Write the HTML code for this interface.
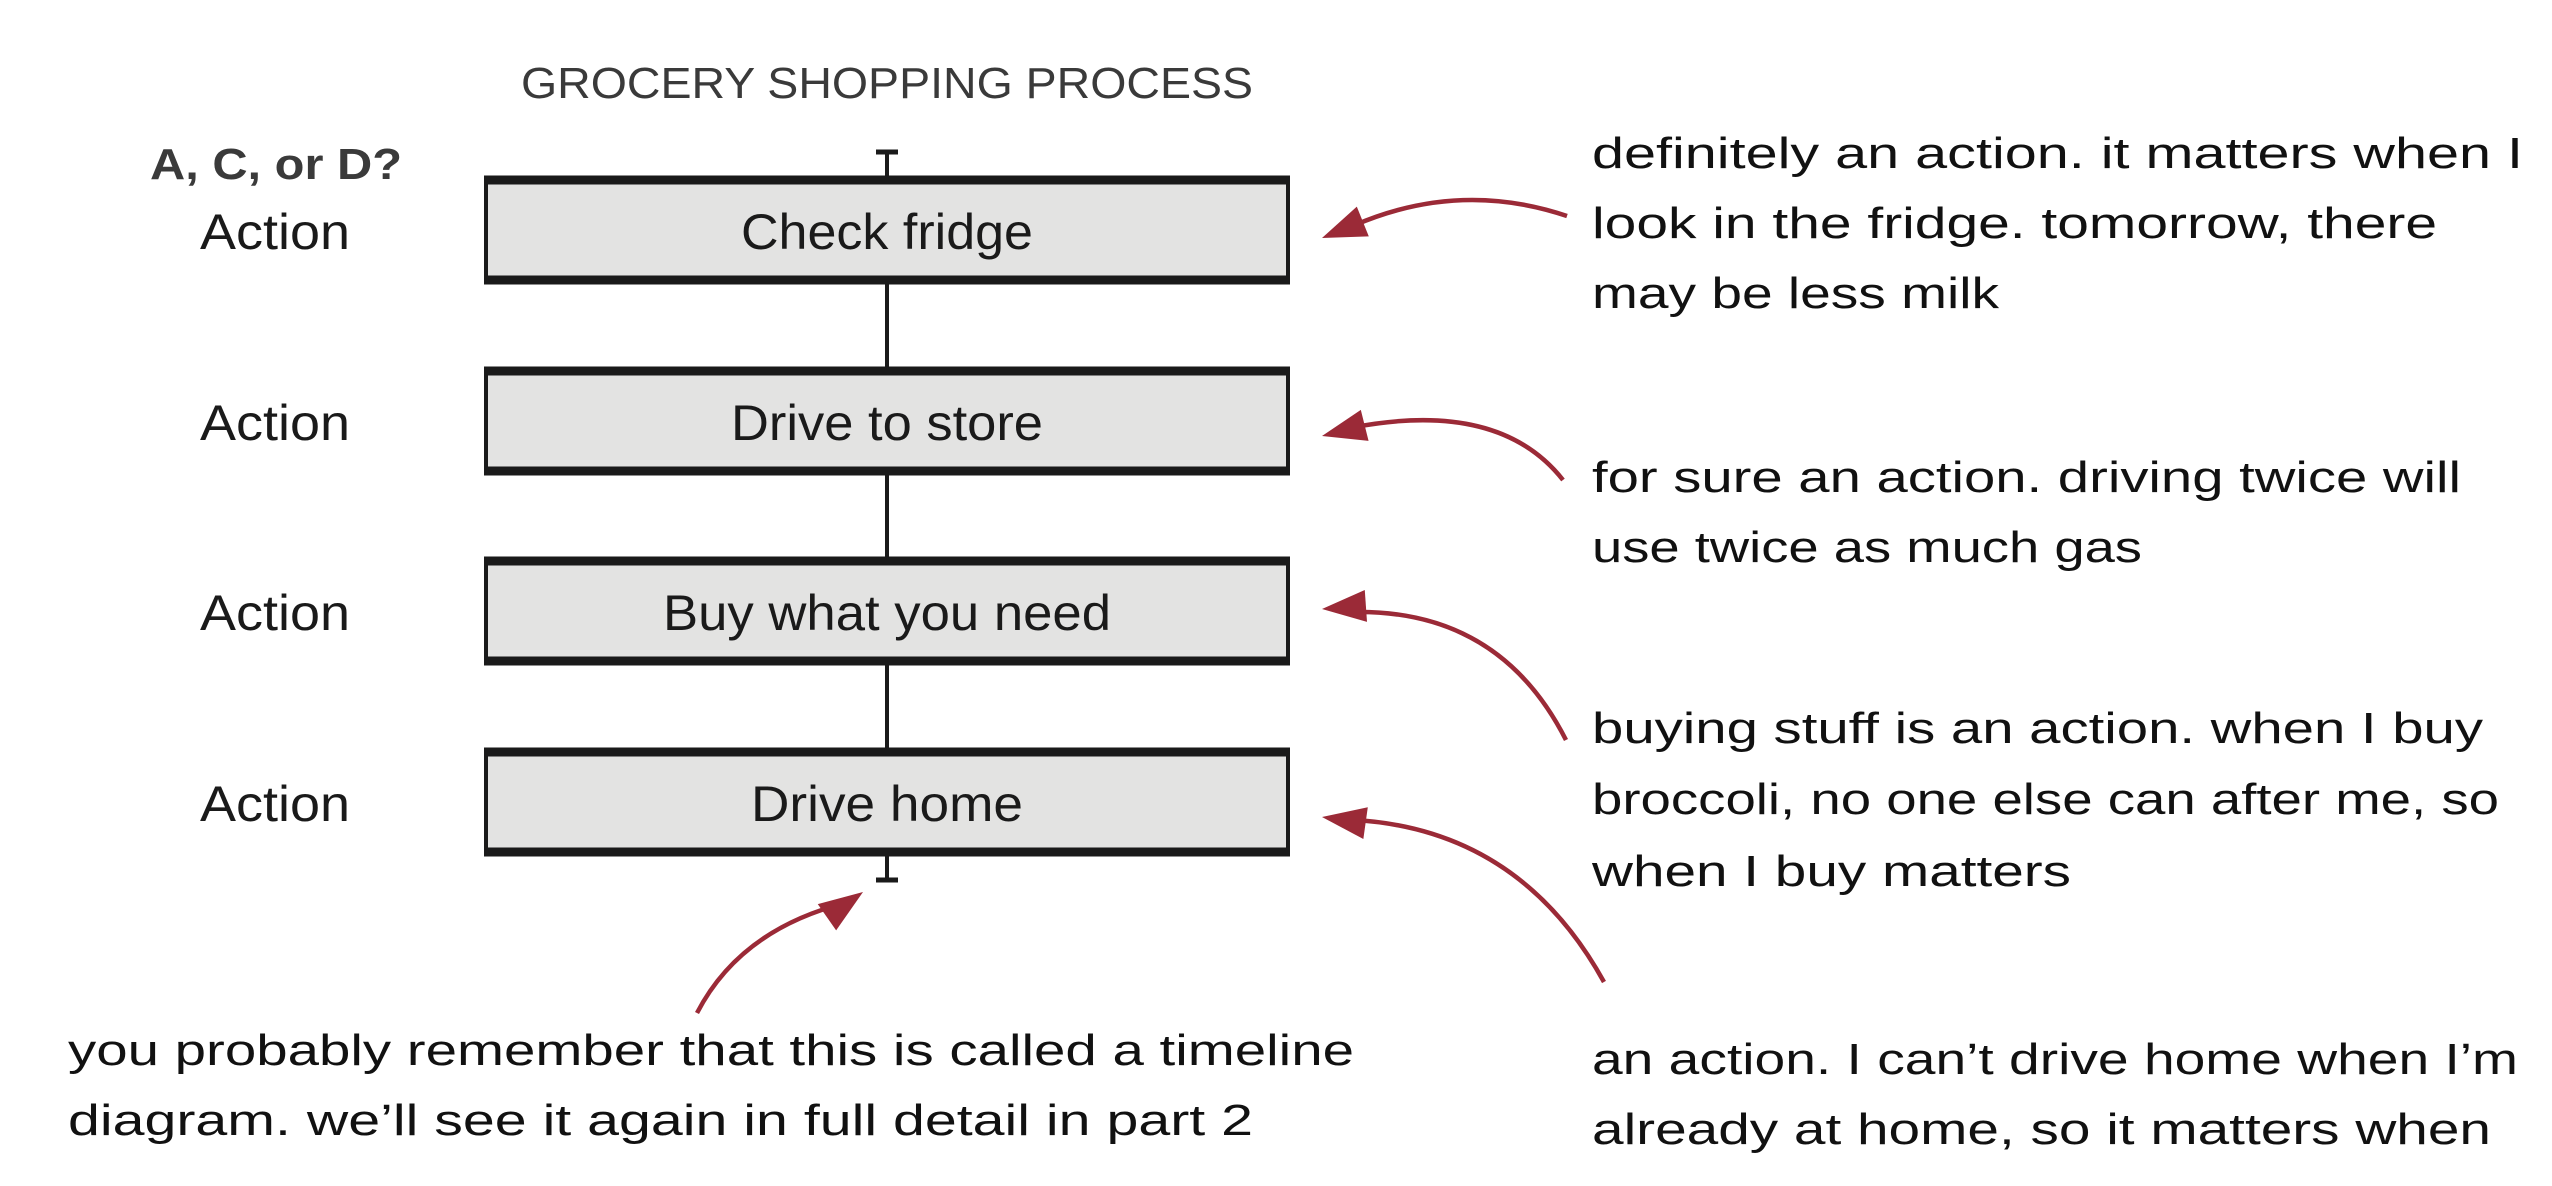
<!DOCTYPE html>
<html><head><meta charset="utf-8"><style>
html,body{margin:0;padding:0;background:#fff;}
svg{display:block;}
.t{font-family:"Liberation Sans",sans-serif;}
.h{font-family:"Liberation Sans",sans-serif;font-size:44px;fill:#111;}
</style></head><body>
<svg width="2552" height="1186" viewBox="0 0 2552 1186" xmlns="http://www.w3.org/2000/svg">
<text class="t" x="521" y="98" font-size="44" fill="#3a3a3a" textLength="732" lengthAdjust="spacingAndGlyphs">GROCERY SHOPPING PROCESS</text>
<text class="t" x="150" y="179" font-size="44" font-weight="bold" fill="#3a3a3a" textLength="252" lengthAdjust="spacingAndGlyphs">A, C, or D?</text>
<line x1="887" y1="151" x2="887" y2="881" stroke="#1a1a1a" stroke-width="4"/>
<line x1="876" y1="152" x2="898" y2="152" stroke="#1a1a1a" stroke-width="5"/>
<line x1="876" y1="880" x2="898" y2="880" stroke="#1a1a1a" stroke-width="5"/>
<g fill="#e3e3e2" stroke="#1a1a1a" stroke-width="4">
<rect x="486" y="180" width="802" height="100"/>
<rect x="486" y="371" width="802" height="100"/>
<rect x="486" y="561" width="802" height="100"/>
<rect x="486" y="752" width="802" height="100"/>
</g>
<g stroke="#1a1a1a" stroke-width="9">
<line x1="484" y1="180" x2="1290" y2="180"/><line x1="484" y1="280" x2="1290" y2="280"/>
<line x1="484" y1="371" x2="1290" y2="371"/><line x1="484" y1="471" x2="1290" y2="471"/>
<line x1="484" y1="561" x2="1290" y2="561"/><line x1="484" y1="661" x2="1290" y2="661"/>
<line x1="484" y1="752" x2="1290" y2="752"/><line x1="484" y1="852" x2="1290" y2="852"/>
</g>
<g class="t" font-size="50" fill="#1a1a1a">
<text x="741" y="249" textLength="292" lengthAdjust="spacingAndGlyphs">Check fridge</text>
<text x="731" y="440" textLength="312" lengthAdjust="spacingAndGlyphs">Drive to store</text>
<text x="663" y="630" textLength="448" lengthAdjust="spacingAndGlyphs">Buy what you need</text>
<text x="751" y="821" textLength="272" lengthAdjust="spacingAndGlyphs">Drive home</text>
<text x="200" y="249" textLength="150" lengthAdjust="spacingAndGlyphs">Action</text>
<text x="200" y="440" textLength="150" lengthAdjust="spacingAndGlyphs">Action</text>
<text x="200" y="630" textLength="150" lengthAdjust="spacingAndGlyphs">Action</text>
<text x="200" y="821" textLength="150" lengthAdjust="spacingAndGlyphs">Action</text>
</g>
<g class="h">
<text x="1592" y="168" textLength="931" lengthAdjust="spacingAndGlyphs">definitely an action. it matters when I</text>
<text x="1592" y="238" textLength="845" lengthAdjust="spacingAndGlyphs">look in the fridge. tomorrow, there</text>
<text x="1592" y="308" textLength="407" lengthAdjust="spacingAndGlyphs">may be less milk</text>
<text x="1592" y="492" textLength="869" lengthAdjust="spacingAndGlyphs">for sure an action. driving twice will</text>
<text x="1592" y="562" textLength="550" lengthAdjust="spacingAndGlyphs">use twice as much gas</text>
<text x="1592" y="743" textLength="891" lengthAdjust="spacingAndGlyphs">buying stuff is an action. when I buy</text>
<text x="1592" y="814" textLength="907" lengthAdjust="spacingAndGlyphs">broccoli, no one else can after me, so</text>
<text x="1592" y="886" textLength="479" lengthAdjust="spacingAndGlyphs">when I buy matters</text>
<text x="1592" y="1074" textLength="926" lengthAdjust="spacingAndGlyphs">an action. I can’t drive home when I’m</text>
<text x="1592" y="1144" textLength="899" lengthAdjust="spacingAndGlyphs">already at home, so it matters when</text>
<text x="68" y="1065" textLength="1286" lengthAdjust="spacingAndGlyphs">you probably remember that this is called a timeline</text>
<text x="68" y="1135" textLength="1185" lengthAdjust="spacingAndGlyphs">diagram. we’ll see it again in full detail in part 2</text>
</g>
<g fill="none" stroke="#9b2a37" stroke-width="4.5">
<path d="M1567,216 Q1460,180 1355,225"/>
<path d="M1563,480 Q1500,400 1355,427"/>
<path d="M1566,740 Q1500,610 1355,612"/>
<path d="M1604,982 Q1520,830 1355,820"/>
<path d="M697,1013 Q740,930 845,903"/>
</g>
<g fill="#9b2a37">
<polygon points="0,0 -44,-16 -44,16" transform="translate(1322,238) rotate(158)"/>
<polygon points="0,0 -44,-16 -44,16" transform="translate(1322,436) rotate(166)"/>
<polygon points="0,0 -44,-16 -44,16" transform="translate(1322,609) rotate(176)"/>
<polygon points="0,0 -44,-16 -44,16" transform="translate(1322,817) rotate(188)"/>
<polygon points="0,0 -44,-16 -44,16" transform="translate(863,892) rotate(-35)"/>
</g>
</svg>
</body></html>
